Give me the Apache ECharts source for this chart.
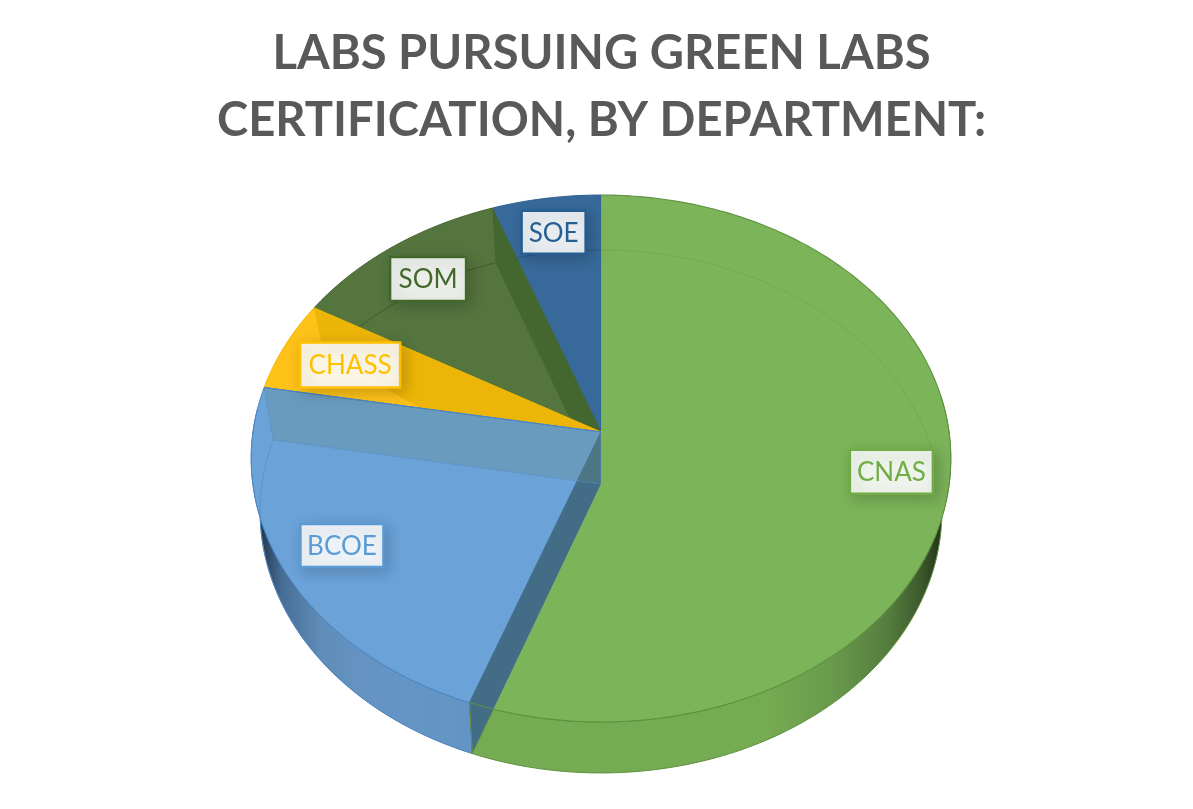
<!DOCTYPE html>
<html><head><meta charset="utf-8">
<style>html,body{margin:0;padding:0;background:#fff}#c{width:1193px;height:809px}</style>
<script src="https://cdn.jsdelivr.net/npm/echarts@6/dist/echarts.min.js"></script>
</head><body><div id="c"></div>
<script>
const titleLines = ['LABS PURSUING GREEN LABS', 'CERTIFICATION, BY DEPARTMENT:'];
const categories = ['CNAS', 'BCOE', 'CHASS', 'SOM', 'SOE'];
const labCounts = [10, 4, 1, 2, 1];

// styling and layout, kept apart from the data
const topColors = ['#7cb45a', '#6ba3d9', '#fec218', '#55753f', '#376a9b'];
const rimColors = ['#5f9140', '#4a86c5', '#e8ae00', '#47672f', '#2f6090'];
const textColors = ['#70ad47', '#5b9bd5', '#ffc000', '#43682b', '#255e91'];
const labelRadii = [0.835, 0.824, 0.788, 0.822, 0.85];
const labelSizes = [[83, 44], [83, 43], [100, 45], [76, 44], [64, 43]];
const TOP = {cx: 601, cy: 432, R: 348, S: 260.8, k: 0.1006};
const FLOOR = {cx: 601, cy: 484, R: 339, S: 258.6, k: 0.105};

const total = labCounts.reduce((a, b) => a + b, 0);
const starts = [];
labCounts.reduce((acc, v, i) => { starts[i] = acc; return acc + v; }, 0);
const deg = v => v / total * 360;
function pt(plane, a, r) {
  const t = a * Math.PI / 180, u = r * Math.sin(t), v = r * Math.cos(t), w = 1 + plane.k * v;
  return [plane.cx + plane.R * u / w, plane.cy - plane.S * v / w];
}
function arc(plane, a0, a1, r) {
  const n = Math.max(2, Math.ceil(Math.abs(a1 - a0))), out = [];
  for (let i = 0; i <= n; i++) out.push(pt(plane, a0 + (a1 - a0) * i / n, r === undefined ? 1 : r));
  return out;
}
const poly = (points, style, z2) => ({type: 'polygon', shape: {points}, style, z2: z2 || 0, silent: true});
const line = (points, stroke, w) => ({type: 'polyline', shape: {points}, style: {fill: null, stroke, lineWidth: w || 1}, silent: true});
const grad = (x0, x1, stops) => new echarts.graphic.LinearGradient(x0, 0, x1, 0, stops.map(s => ({offset: s[0], color: s[1]})), true);

function renderItem(params, api) {
  const i = api.value(0), a0 = deg(starts[i]), a1 = a0 + deg(api.value(1)), kids = [];
  const apexT = [TOP.cx, TOP.cy], apexF = [FLOOR.cx, FLOOR.cy];
  const sector = [apexT].concat(arc(TOP, a0, a1));
  if (i === 4) { // SOE
    kids.push(poly(sector, {fill: topColors[i], stroke: rimColors[i], lineWidth: 1}));
    kids.push(line(arc(FLOOR, a0, a1), 'rgba(30,70,110,.55)'));
  }
  if (i === 3) { // SOM and the wall it shares with SOE
    kids.push(poly(sector, {fill: topColors[i], stroke: rimColors[i], lineWidth: 1}));
    kids.push(line(arc(FLOOR, a0, a1), 'rgba(55,85,40,.8)'));
    kids.push(poly([pt(TOP, a1, 1), apexT, apexF, pt(FLOOR, a1, 1)], {fill: '#44662f'}));
  }
  if (i === 2) { // CHASS
    kids.push(poly(sector, {fill: topColors[i], stroke: '#f0b800', lineWidth: 1}));
    const p0 = pt(TOP, a1, 1), fl = pt(FLOOR, a1, 1);
    kids.push(poly([p0, apexT, pt(TOP, a0, 0.53), pt(TOP, a0 + 5, 0.65), [fl[0], fl[1] - 15]], {fill: '#edb507'}));
  }
  if (i === 1) { // BCOE
    const side = arc(TOP, a0, a1 - 5).concat(arc(FLOOR, a1 - 5, a0));
    kids.push(poly(side, {fill: grad(255, 472, [[0, '#131d2a'], [0.05, '#2c4560'], [0.12, '#466c93'], [0.3, '#5f8cb8'], [0.5, '#6594c3'], [1, '#6295c5']]), stroke: '#4a80b8', lineWidth: 1}));
    kids.push(poly(sector, {fill: topColors[i], stroke: rimColors[i], lineWidth: 1}));
    kids.push(line(arc(FLOOR, a1, a1 - 45), 'rgba(85,140,195,.7)'));
    kids.push(poly([apexT, apexF, pt(FLOOR, a0, 1), pt(TOP, a0, 1)], {fill: '#436d87', stroke: 'rgba(67,109,135,.9)', lineWidth: 1}));
    kids.push(poly([pt(TOP, a1, 1), apexT, apexF, pt(FLOOR, a1, 1)], {fill: 'rgba(104,139,130,.3)', stroke: 'rgba(85,140,195,.55)', lineWidth: 1}));
    kids.push(line([pt(TOP, a1, 1), apexT], '#4a86c5', 1.2));
  }
  if (i === 0) { // CNAS
    const cut = a1 - 3.8; // where the near edge of the cut meets the top rim
    const side = arc(TOP, 82, cut).concat(arc(FLOOR, a1, 82));
    kids.push(poly(side, {fill: grad(473, 945, [[0, '#75ab52'], [0.62, '#75ab52'], [0.76, '#6a9a4d'], [0.88, '#557d3e'], [0.95, '#3d592c'], [1, '#1e2d14']]), stroke: '#5f9140', lineWidth: 1}));
    kids.push(poly([apexF, [TOP.cx, TOP.cy - TOP.S / (1 + TOP.k)]].concat(arc(TOP, a0, cut)), {fill: topColors[i]}));
    kids.push(line(arc(TOP, a0, cut), '#5f9140', 1.1));
    kids.push(line(arc(FLOOR, a0, 86), 'rgba(95,145,64,.32)'));
    kids.push(line([pt(TOP, a1, 1), pt(FLOOR, a1, 1)], '#5f9140', 1));
    kids.push(line([pt(TOP, a1, 1), pt(TOP, cut, 1)], '#5f9140', 1));
  }
  // label
  const c = pt(TOP, (a0 + a1) / 2, labelRadii[i]), sz = labelSizes[i], cy = c[1] + 1.5;
  kids.push({type: 'rect', z2: 50, silent: true,
    shape: {x: c[0] - sz[0] / 2, y: cy - sz[1] / 2, width: sz[0], height: sz[1]},
    style: {fill: 'rgba(255,255,255,.89)', stroke: textColors[i], lineWidth: 2.5,
      shadowBlur: 14, shadowOffsetX: 4, shadowOffsetY: 4, shadowColor: 'rgba(0,0,0,.2)'}});
  kids.push({type: 'text', z2: 51, silent: true,
    style: {x: c[0], y: cy + 1, text: categories[i], fill: textColors[i], align: 'center', verticalAlign: 'middle',
      font: '26px Lato, "Open Sans", sans-serif'}});
  return {type: 'group', children: kids};
}

const seriesData = categories.map((name, i) => ({name, value: [i, labCounts[i]]})).reverse();
const chart = echarts.init(document.getElementById('c'), null, {renderer: 'canvas'});
chart.setOption({
  animation: false,
  backgroundColor: '#ffffff',
  title: {
    text: titleLines.join('\n'), left: 596.5, top: 15, textAlign: 'center',
    textStyle: {fontFamily: 'Lato, "Open Sans", sans-serif', fontWeight: 'bold', fontSize: 47.2, lineHeight: 67, color: '#595959'}
  },
  series: [{type: 'custom', coordinateSystem: 'none', renderItem, data: seriesData, silent: true, clip: false}]
});
</script></body></html>
